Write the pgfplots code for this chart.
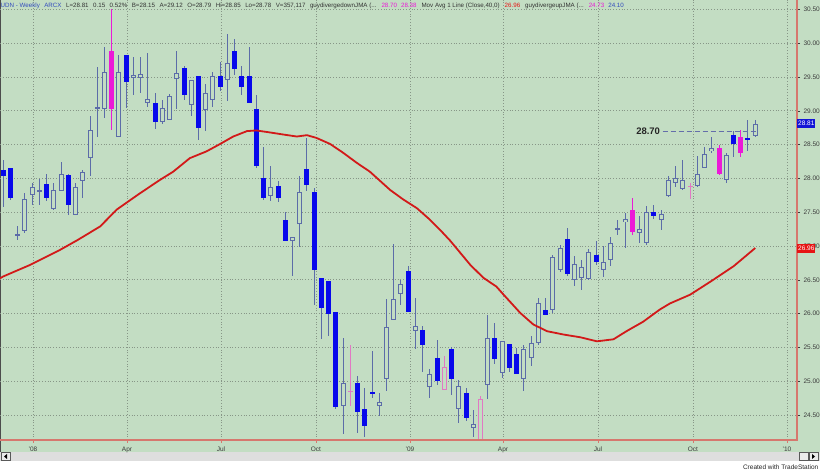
\documentclass[border=0pt]{standalone}
\usepackage{fontspec}
\setmainfont{Liberation Sans}
\usepackage{pgfplots}
\pgfplotsset{compat=1.18}
\usepackage{pgfplotstable}
\pgfdeclarelayer{background}
\pgfsetlayers{background,main}

\definecolor{bggreen}{RGB}{195,221,195}
\definecolor{candleblue}{RGB}{8,8,235}
\definecolor{wickc}{RGB}{92,108,168}
\definecolor{magc}{RGB}{235,25,215}
\definecolor{magh}{RGB}{225,120,195}
\definecolor{mared}{RGB}{210,25,25}
\definecolor{axred}{RGB}{214,120,110}
\definecolor{gridc}{RGB}{135,150,135}
\definecolor{labgrey}{RGB}{60,60,60}
\definecolor{sbgrey}{RGB}{222,222,222}
\definecolor{hdrblue}{RGB}{50,75,190}
\definecolor{dashc}{RGB}{100,110,170}
\definecolor{boxblue}{RGB}{20,20,215}
\definecolor{boxred}{RGB}{230,20,20}

% weekly candles: index, open, high, low, close
\pgfplotstableread{
i O H L C
0 28.12 28.28 27.57 28.03
1 28.15 28.16 27.68 27.71
6 27.92 28.07 27.66 27.71
9 28.05 28.07 27.46 27.60
17 29.82 29.82 29.04 29.42
21 29.12 29.27 28.73 28.83
25 29.64 29.66 29.16 29.24
27 29.51 29.52 28.57 28.74
30 29.51 29.73 29.29 29.35
32 29.89 30.06 29.53 29.62
33 29.52 29.66 29.24 29.35
34 29.51 29.95 29.12 29.12
35 29.03 29.24 28.15 28.19
36 28.01 28.46 27.68 27.71
38 27.89 27.96 27.65 27.71
39 27.38 27.51 27.08 27.08
42 28.14 28.60 27.81 27.91
43 27.80 27.86 26.13 26.64
44 26.53 26.53 25.62 26.08
45 26.48 26.48 25.67 26.00
46 26.03 26.03 24.59 24.62
49 24.98 25.07 24.24 24.54
50 24.59 24.90 24.17 24.34
51 24.84 25.44 24.75 24.82
56 26.63 26.70 26.02 26.02
58 25.76 25.81 25.14 25.53
60 25.34 25.61 24.95 25.00
62 25.47 25.51 24.80 25.03
64 24.83 24.90 24.41 24.46
68 25.64 25.86 25.26 25.33
70 25.55 25.55 25.14 25.20
71 25.40 25.49 25.11 25.11
75 26.06 26.23 25.98 25.98
78 27.10 27.27 26.56 26.58
82 26.87 27.07 26.72 26.76
90 27.51 27.61 27.40 27.45
101 28.65 28.70 28.32 28.51
103 28.60 28.87 28.40 28.58
}\tblBlue

\pgfplotstableread{
i O H L C
2 27.16 27.29 27.09 27.18
3 27.22 27.78 27.19 27.70
4 27.76 27.93 27.61 27.88
5 27.81 27.99 27.61 27.83
7 27.55 27.93 27.54 27.83
8 27.82 28.24 27.81 28.07
10 27.46 27.93 27.46 27.87
11 27.96 28.13 27.71 28.09
12 28.30 28.92 28.03 28.72
13 29.03 29.65 28.62 29.05
14 29.03 29.95 28.89 29.57
16 28.61 29.82 28.61 29.58
18 29.49 29.79 29.24 29.53
19 29.49 29.80 29.26 29.55
20 29.12 29.86 29.06 29.17
22 28.83 29.16 28.81 29.04
23 28.86 29.25 28.86 29.22
24 29.47 29.88 29.02 29.56
26 29.09 29.46 28.92 29.45
28 29.01 29.39 28.70 29.26
29 29.16 29.58 29.06 29.52
31 29.45 30.14 29.14 29.71
37 27.74 28.18 27.66 27.87
40 27.08 27.13 26.56 27.13
41 27.33 28.03 26.99 27.80
47 24.63 25.64 24.22 24.98
52 24.63 24.83 24.48 24.69
53 25.03 26.21 24.86 25.80
54 25.90 27.03 25.90 26.22
55 26.29 26.50 26.13 26.44
57 25.74 26.23 25.47 25.82
59 24.91 25.18 24.75 25.10
63 24.59 25.02 24.38 24.93
65 24.31 24.58 24.17 24.36
67 24.95 25.98 24.73 25.64
69 25.12 25.59 25.05 25.59
72 25.03 25.54 24.85 25.48
73 25.34 25.67 25.22 25.57
74 25.57 26.23 25.54 26.15
76 26.05 26.87 26.01 26.84
77 26.65 27.02 26.62 26.97
79 26.50 26.85 26.41 26.74
80 26.53 26.80 26.35 26.69
81 26.51 26.95 26.50 26.91
83 26.64 27.00 26.54 26.77
84 26.79 27.13 26.71 27.04
85 27.24 27.39 27.17 27.26
86 27.35 27.49 26.97 27.40
88 27.19 27.44 27.05 27.25
89 27.04 27.59 27.02 27.51
91 27.38 27.53 27.23 27.48
92 27.74 28.04 27.73 27.97
93 27.93 28.18 27.87 28.01
94 27.84 28.28 27.83 27.98
96 27.89 28.33 27.88 28.07
97 28.16 28.47 28.15 28.36
98 28.40 28.62 28.38 28.45
100 27.97 28.37 27.93 28.34
104 28.63 28.87 28.62 28.81
}\tblWhite

\pgfplotstableread{
i O H L C
15 29.89 30.50 28.72 29.03
87 27.53 27.71 27.17 27.20
99 28.45 28.50 28.05 28.07
102 28.61 28.72 28.32 28.37
}\tblMagF

\pgfplotstableread{
i O H L C
48 24.84 25.53 24.63 24.86
61 24.87 25.37 24.87 25.21
66 24.10 24.78 24.05 24.74
95 27.88 27.93 27.70 27.89
}\tblMagH

% 40-week moving average
\pgfplotstableread{
i v
-0.5 26.52
0 26.55
3.7 26.72
7.8 26.94
10.3 27.09
13.4 27.29
15.7 27.54
18.9 27.78
21.7 27.98
23.5 28.10
25.8 28.30
28.1 28.40
30.0 28.51
31.8 28.62
33.7 28.70
35.0 28.71
36.9 28.68
38.7 28.65
40.6 28.62
42.0 28.64
43.3 28.60
45.2 28.51
47.0 28.38
48.9 28.23
50.7 28.10
53.5 27.83
55.3 27.69
57.2 27.56
59.0 27.39
60.4 27.24
61.8 27.08
63.2 26.90
64.6 26.72
66.4 26.53
68.2 26.40
69.2 26.28
71.5 26.01
73.3 25.84
75.2 25.74
77.5 25.69
79.8 25.65
82.1 25.59
84.4 25.62
86.2 25.74
88.5 25.88
90.8 26.06
92.2 26.15
95.0 26.28
98.2 26.50
101.0 26.70
104.0 26.97
}\tblMA

\newcommand{\wicks}[2]{%
  \addplot[draw=none, mark=none, forget plot,
    error bars/.cd, y dir=both, y explicit, error mark=none,
    error bar style={draw=#2, line width=1pt}]
    table[x=i, y expr={(\thisrow{H}+\thisrow{L})/2},
          y error expr={(\thisrow{H}-\thisrow{L})/2}] {#1};}
\newcommand{\bodies}[3]{%
  \addplot[draw=none, mark=none, forget plot,
    error bars/.cd, y dir=both, y explicit, error mark=none,
    error bar style={draw=#2, line width=#3}]
    table[x=i, y expr={(\thisrow{O}+\thisrow{C})/2},
          y error expr={max(abs(\thisrow{C}-\thisrow{O})/2,0.008)}] {#1};}
\newcommand{\hollowin}[1]{%
  \addplot[draw=none, mark=none, forget plot,
    error bars/.cd, y dir=both, y explicit, error mark=none,
    error bar style={draw=bggreen, line width=3pt}]
    table[x=i, y expr={(\thisrow{O}+\thisrow{C})/2},
          y error expr={max(abs(\thisrow{C}-\thisrow{O})/2-0.0148,0)}] {#1};}

\begin{document}
\begin{tikzpicture}[x=1pt,y=1pt]
\begin{axis}[
  scale only axis, width=797pt, height=440pt,
  xmin=-0.456, xmax=109.78, ymin=24.13, ymax=30.64,
  axis line style={draw=none},
  clip mode=individual,
  xtick={4.11,17.11,30.11,43.25,56.25,69.12,82.25,95.39,108.4},
  xticklabels={'08,Apr,Jul,Oct,'09,Apr,Jul,Oct,'10},
  minor x tick num=2,
  ytick={24.5,25,25.5,26,26.5,27,27.5,28,28.5,29,29.5,30,30.5},
  xtick pos=lower, ytick pos=upper,
  xticklabel pos=lower, yticklabel pos=upper,
  tick align=outside,
  major tick length=3pt, minor tick length=2pt,
  xtick style={draw=axred, line width=0.8pt},
  ytick style={draw=labgrey, line width=0.5pt},
  xmajorgrids, ymajorgrids,
  major grid style={draw=gridc, line width=0.7pt, dash pattern=on 0.8pt off 2pt},
  /pgf/number format/assume math mode=true,
  yticklabel style={/pgf/number format/.cd, fixed, fixed zerofill, precision=2},
  ticklabel style={font=\fontsize{6.5}{7}\selectfont, text=labgrey},
]
\coordinate (AX) at (rel axis cs:0,0);
\wicks{\tblBlue}{wickc}
\wicks{\tblWhite}{wickc}
\wicks{\tblMagF}{magc}
\wicks{\tblMagH}{magh}
\bodies{\tblBlue}{candleblue}{5pt}
\bodies{\tblMagF}{magc}{5pt}
\bodies{\tblWhite}{wickc}{5pt}
\hollowin{\tblWhite}
\bodies{\tblMagH}{magh}{5pt}
\hollowin{\tblMagH}
\addplot[mared, line width=1.8pt, line join=round, mark=none, forget plot] table[x=i, y=v] {\tblMA};
\addplot[dashc, line width=0.8pt, dash pattern=on 5pt off 3pt, mark=none, forget plot] coordinates {(91.2,28.70) (104.3,28.70)};
\node[anchor=east, inner sep=1pt, font=\bfseries\fontsize{9.5}{10}\selectfont, text=black!85] at (axis cs:91.0,28.70) {28.70};
\draw[axred, line width=1.2pt] (rel axis cs:0,0) -- (rel axis cs:1,0) -- (rel axis cs:1,1);
\node[anchor=west, fill=boxblue, text=white, inner sep=1pt, minimum height=9pt, font=\fontsize{6.5}{7}\selectfont] at (axis cs:109.78,28.81) {28.81};
\node[anchor=west, fill=boxred, text=white, inner sep=1pt, minimum height=9pt, font=\fontsize{6.5}{7}\selectfont] at (axis cs:109.78,26.96) {26.96};
\end{axis}

\begin{scope}[shift={(AX)}]
\begin{scope}[yshift=-31pt]
\begin{pgfonlayer}{background}
\fill[white] (0,0) rectangle (820,471);
\fill[bggreen] (0,19) rectangle (820,471);
\fill[sbgrey] (0,10) rectangle (820,19);
\draw[gray!70!black, line width=0.6pt, fill=sbgrey!60] (1,10.5) rectangle (10,18.5);
\fill[black] (4,14.5) -- (7,17) -- (7,12) -- cycle;
\draw[gray!70!black, line width=0.6pt, fill=sbgrey!60] (799,10.5) rectangle (808,18.5);
\draw[gray!70!black, line width=0.6pt, fill=sbgrey!60] (809,10.5) rectangle (818,18.5);
\fill[black] (815,14.5) -- (812,17) -- (812,12) -- cycle;
\draw[black!70, line width=1pt] (0.5,19) -- (0.5,471);
\end{pgfonlayer}
\node[anchor=west, inner sep=0pt, font=\fontsize{6.2}{7}\selectfont, text=black!80] at (0.5,465) {%
\textcolor{hdrblue}{UDN - Weekly}\hspace{4.5pt}\textcolor{hdrblue}{ARCX}\hspace{4.5pt}L=28.81\hspace{4.5pt}0.15\hspace{4.5pt}0.52\%\hspace{4.5pt}B=28.15\hspace{4.5pt}A=29.12\hspace{4.5pt}O=28.79\hspace{4.5pt}Hi=28.85\hspace{4.5pt}Lo=28.78\hspace{4.5pt}V=357,117\hspace{4.5pt}guydivergedownJMA (...\hspace{5pt}\textcolor{magc}{28.70}\hspace{4pt}\textcolor{magc}{28.38}\hspace{5pt}Mov Avg 1 Line (Close,40,0)\hspace{5pt}\textcolor{boxred}{26.96}\hspace{5pt}guydivergeupJMA (...\hspace{5pt}\textcolor{magc}{24.73}\hspace{4pt}\textcolor{hdrblue}{24.10}};
\node[anchor=south east, inner sep=0.5pt, font=\fontsize{6.5}{7}\selectfont, text=black!85] at (819,1) {Created with TradeStation};
\pgfresetboundingbox
\path[use as bounding box] (0,0) rectangle (820,471);
\end{scope}
\end{scope}
\end{tikzpicture}
\end{document}
